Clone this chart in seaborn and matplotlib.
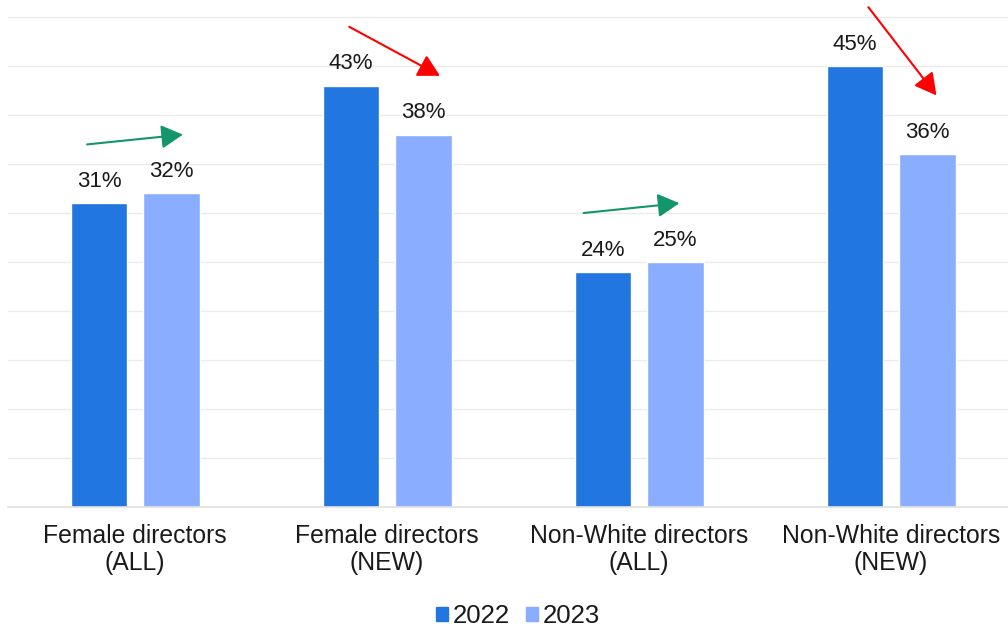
import matplotlib
matplotlib.use("Agg")
import matplotlib.pyplot as plt
import seaborn as sns
import pandas as pd

categories = ["Female directors\n(ALL)", "Female directors\n(NEW)",
              "Non-White directors\n(ALL)", "Non-White directors\n(NEW)"]
years = ["2022", "2023"]
values_2022 = [31, 43, 24, 45]
values_2023 = [32, 38, 25, 36]

# annotation layout (horizontal extents of trend arrows relative to group centre)
arrow_span = [(-0.19, 0.19), (-0.15, 0.21), (-0.22, 0.16), (-0.09, 0.18)]
arrow_lift = 6.0

sns.set_theme(style="white")
plt.rcParams["font.family"] = ["Liberation Sans", "DejaVu Sans"]
plt.rcParams["text.color"] = "#1a1a1a"

df = pd.DataFrame({
    "category": categories * 2,
    "year": ["2022"] * 4 + ["2023"] * 4,
    "value": values_2022 + values_2023,
})

palette = {"2022": "#2176E0", "2023": "#8AADFF"}

fig = plt.figure(figsize=(10.08, 6.28), dpi=100)
ax = fig.add_axes([8 / 1008, 1 - 507 / 628, 1000 / 1008, 507 / 628])

sns.barplot(data=df, x="category", y="value", hue="year", order=categories,
            hue_order=years, palette=palette, width=0.572, gap=0.21,
            legend=False, ax=ax, saturation=1)

for cont, vals in zip(ax.containers, [values_2022, values_2023]):
    ax.bar_label(cont, labels=[f"{v}%" for v in vals], padding=8,
                 fontsize=16, color="#1a1a1a")

ax.set_ylim(0, 507 / 9.8)
ax.set_xlim(-0.504, 3.464)
ax.set_yticks(range(0, 51, 5))
ax.set_yticklabels([])
ax.tick_params(axis="y", length=0)
ax.yaxis.grid(True, color="#EBEBEB", linewidth=1.0)
ax.set_axisbelow(True)
for s in ["left", "right", "top"]:
    ax.spines[s].set_visible(False)
ax.spines["bottom"].set_color("#E0E0E0")
ax.spines["bottom"].set_linewidth(1.2)
ax.set_xlabel("")
ax.set_ylabel("")
ax.tick_params(axis="x", length=0, pad=12, labelsize=17.8, labelcolor="#1a1a1a")
for t in ax.get_xticklabels():
    t.set_linespacing(1.17)

for i, (a, b) in enumerate(zip(values_2022, values_2023)):
    col = "#14966C" if b > a else "#FF0000"
    x0, x1 = arrow_span[i]
    ax.annotate("", xy=(i + x1, b + arrow_lift), xytext=(i + x0, a + arrow_lift),
                arrowprops=dict(arrowstyle="-|>,head_length=1.1,head_width=0.6",
                                mutation_scale=12, color=col, lw=1.5,
                                shrinkA=0, shrinkB=0),
                annotation_clip=False)

handles = [plt.Rectangle((0, 0), 1, 1, color=palette[y]) for y in years]
fig.legend(handles, years, loc="center", bbox_to_anchor=(0.514, 12 / 628),
           ncol=2, frameon=False, fontsize=18.5, handlelength=0.47,
           handleheight=0.47, handletextpad=0.2, columnspacing=0.62)

fig.savefig("out.png", dpi=100)
